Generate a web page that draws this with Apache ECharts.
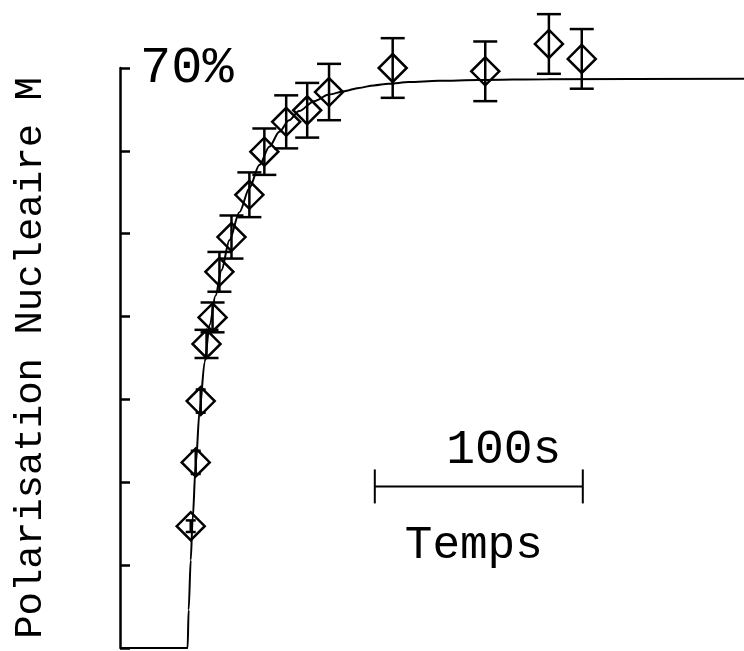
<!DOCTYPE html>
<html>
<head>
<meta charset="utf-8">
<script src="https://cdn.jsdelivr.net/npm/echarts@6/dist/echarts.min.js"></script>
<style>
  html, body { margin: 0; padding: 0; background: #fff; }
  #chart { width: 744px; height: 651px; }
</style>
</head>
<body>
<div id="chart"></div>
<script>
// Measured nuclear polarisation: time (s), M (%), error (%)
const pointTimes  = [34.0, 36.4, 38.8, 41.6, 44.5, 47.8, 53.6, 62.2, 69.4, 79.9, 90.0, 100.5, 131.1, 175.6, 206.2, 222.0];
const pointValues = [14.7, 22.4, 29.8, 36.7, 39.9, 45.4, 49.6, 54.7, 59.9, 63.5, 64.9, 67.1, 70.0, 69.6, 72.9, 71.1];
const pointErrors = [0.7, 1.4, 1.4, 1.7, 1.8, 2.4, 2.6, 2.7, 2.8, 3.2, 3.3, 3.4, 3.6, 3.6, 3.6, 3.6];

// Build-up curve, sampled
const curveTimes  = [0, 32.5, 33.0, 34.0, 34.9, 36.4, 38.3, 40.7, 43.1, 45.9, 48.8, 52.6, 57.4, 62.2, 67.0, 71.8, 76.6, 81.3, 86.1, 93.3, 100.5, 107.7, 114.8, 122.0, 129.2, 138.8, 153.1, 172.2, 205.7, 300];
const curveValues = [0, 0, 4.6, 10.6, 15.4, 22.1, 28.7, 34.5, 39.0, 42.5, 45.6, 49.2, 52.6, 55.5, 58.3, 60.5, 62.3, 63.7, 64.8, 66.0, 66.8, 67.2, 67.6, 67.9, 68.1, 68.3, 68.45, 68.55, 68.65, 68.7];

// Vertical axis
const yMin = 0, yMax = 70, yStep = 10;
const yTopLabel = '70%';
const yAxisTitle = 'Polarisation Nucleaire M';

// Time scale bar
const scaleBarStart = 122.5;
const scaleBarLength = 100;
const scaleBarLevel = 19.5;
const scaleBarLabel = '100s';
const scaleBarCaption = 'Temps';

const FONT = '"Liberation Mono", "Courier New", monospace';
const INK = '#000';

const chart = echarts.init(document.getElementById('chart'), null, { renderer: 'canvas' });

const pointData = pointTimes.map((t, i) => [t, pointValues[i], pointErrors[i]]);
const curveData = curveTimes.map((t, i) => [t, curveValues[i]]);

// Diamond marker with vertical error bar
function renderPoint(params, api) {
  const t = api.value(0), m = api.value(1), e = api.value(2);
  const c = api.coord([t, m]);
  const hi = api.coord([t, m + e]);
  const lo = api.coord([t, m - e]);
  const cap = e < 1.5 ? 5 : 12;
  const d = 14;
  const line = { stroke: INK, lineWidth: 2.5, fill: null };
  return {
    type: 'group',
    children: [
      { type: 'line', shape: { x1: c[0], y1: hi[1], x2: c[0], y2: lo[1] }, style: line },
      { type: 'line', shape: { x1: c[0] - cap, y1: hi[1], x2: c[0] + cap, y2: hi[1] }, style: line },
      { type: 'line', shape: { x1: c[0] - cap, y1: lo[1], x2: c[0] + cap, y2: lo[1] }, style: line },
      { type: 'polygon', shape: { points: [[c[0], c[1] - d], [c[0] + d, c[1]], [c[0], c[1] + d], [c[0] - d, c[1]]] },
        style: { stroke: INK, lineWidth: 2.5, fill: null } }
    ]
  };
}

// Horizontal time scale bar with its labels
function renderScaleBar(params, api) {
  const a = api.coord([api.value(0), api.value(2)]);
  const b = api.coord([api.value(1), api.value(2)]);
  const mid = (a[0] + b[0]) / 2;
  const line = { stroke: INK, lineWidth: 2, fill: null };
  return {
    type: 'group',
    children: [
      { type: 'line', shape: { x1: a[0], y1: a[1], x2: b[0], y2: b[1] }, style: line },
      { type: 'line', shape: { x1: a[0], y1: a[1] - 17, x2: a[0], y2: a[1] + 17 }, style: line },
      { type: 'line', shape: { x1: b[0], y1: b[1] - 17, x2: b[0], y2: b[1] + 17 }, style: line },
      { type: 'text', style: { text: scaleBarLabel, x: mid + 25, y: a[1] - 12, align: 'center', verticalAlign: 'bottom',
          fontSize: 48, fontFamily: FONT, fill: INK } },
      { type: 'text', style: { text: scaleBarCaption, x: mid - 5, y: a[1] + 36, align: 'center', verticalAlign: 'top',
          fontSize: 46, fontFamily: FONT, fill: INK } }
    ]
  };
}

chart.setOption({
  animation: false,
  backgroundColor: '#fff',
  grid: { left: 120, top: 68, width: 627, height: 580 },
  xAxis: { type: 'value', min: 0, max: 300, show: false },
  yAxis: {
    type: 'value', min: yMin, max: yMax, interval: yStep,
    name: yAxisTitle, nameLocation: 'middle', nameRotate: 90, nameGap: 70,
    nameTextStyle: { fontFamily: FONT, fontSize: 39, color: INK },
    axisLine: { show: true, lineStyle: { color: INK, width: 2.5 } },
    axisTick: { show: true, inside: true, length: 10, lineStyle: { color: INK, width: 2.5 } },
    axisLabel: {
      inside: true, margin: 20, showMaxLabel: true, color: INK,
      fontFamily: FONT, fontSize: 52,
      formatter: v => (v === yMax ? yTopLabel : '')
    },
    splitLine: { show: false }
  },
  series: [
    {
      type: 'line', data: curveData, showSymbol: false, symbol: 'none',
      smooth: 0.3, smoothMonotone: 'x', clip: false,
      lineStyle: { color: INK, width: 2 }
    },
    { type: 'custom', data: pointData, renderItem: renderPoint, clip: false },
    { type: 'custom', data: [[scaleBarStart, scaleBarStart + scaleBarLength, scaleBarLevel]], renderItem: renderScaleBar, clip: false }
  ]
});
</script>
</body>
</html>
